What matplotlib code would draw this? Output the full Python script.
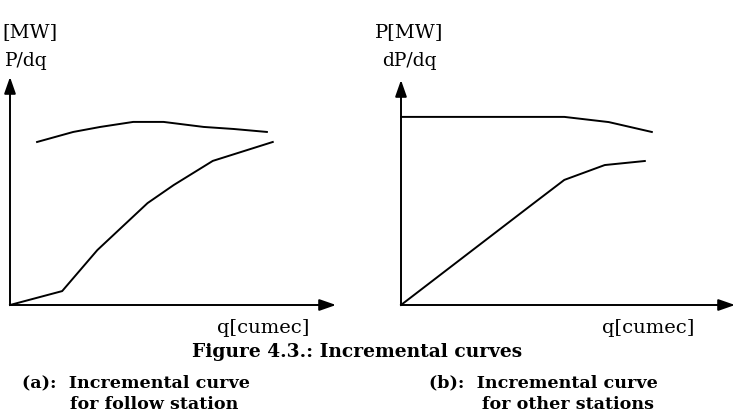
import matplotlib
matplotlib.use("Agg")
import matplotlib.pyplot as plt

# ---- data (arbitrary units, axes span 0..10) ----
follow_upper_x = [0.83, 1.94, 2.77, 3.78, 4.71, 5.94, 6.86, 7.88]
follow_upper_y = [7.15, 7.59, 7.81, 8.03, 8.03, 7.81, 7.72, 7.59]
follow_lower_x = [0.0, 1.6, 2.68, 4.22, 5.02, 6.22, 8.06]
follow_lower_y = [0.0, 0.61, 2.41, 4.47, 5.26, 6.32, 7.15]

other_upper_x = [0.0, 3.9, 4.89, 6.22, 7.51]
other_upper_y = [8.36, 8.36, 8.36, 8.13, 7.69]
other_lower_x = [0.0, 3.9, 4.89, 6.1, 7.3]
other_lower_y = [0.0, 4.44, 5.56, 6.22, 6.4]

W, H = 742, 415
fig = plt.figure(figsize=(W / 100, H / 100), dpi=100)
fig.patch.set_facecolor("white")
SERIF = ["DejaVu Serif", "Liberation Serif"]


def px_axes(x0, y0, x1, y1):
    """axes from origin pixel (x0,y0) to arrow tips (x1 right, y1 top)"""
    ax = fig.add_axes([x0 / W, (H - y0) / H, (x1 - x0) / W, (y0 - y1) / H])
    ax.set_xlim(0, 10)
    ax.set_ylim(0, 10)
    ax.axis("off")
    arrow = dict(arrowstyle="-|>,head_length=1.0,head_width=0.35", color="black",
                 lw=1.4, shrinkA=0, shrinkB=0, mutation_scale=10)
    ax.annotate("", xy=(1, 0), xytext=(0, 0), xycoords="axes fraction",
                arrowprops=arrow)
    ax.annotate("", xy=(0, 1), xytext=(0, 0), xycoords="axes fraction",
                arrowprops=arrow)
    return ax


axa = px_axes(10, 305, 336, 77)
axa.plot(follow_upper_x, follow_upper_y, color="black", lw=1.4, clip_on=False)
axa.plot(follow_lower_x, follow_lower_y, color="black", lw=1.4, clip_on=False)

axb = px_axes(401, 305, 735, 80)
axb.plot(other_upper_x, other_upper_y, color="black", lw=1.4, clip_on=False)
axb.plot(other_lower_x, other_lower_y, color="black", lw=1.4, clip_on=False)


def ftext(x, y, s, size, weight="normal"):
    fig.text(x / W, 1 - y / H, s, fontsize=size, ha="left", va="baseline",
             family=SERIF, weight=weight)


ftext(2, 37, "[MW]", 14)
ftext(5, 66, "P/dq", 13.5)
ftext(375, 37, "P[MW]", 14)
ftext(382, 66, "dP/dq", 13.5)
ftext(217, 333, "q[cumec]", 14)
ftext(602, 333, "q[cumec]", 14)

ftext(192, 357, "Figure 4.3.: Incremental curves", 13.4, weight="bold")
ftext(22, 387, "(a):  Incremental curve", 12.6, weight="bold")
ftext(70, 409, "for follow station", 12.6, weight="bold")
ftext(429, 387, "(b):  Incremental curve", 12.6, weight="bold")
ftext(482, 409, "for other stations", 12.6, weight="bold")

fig.savefig("out.png", dpi=100, facecolor="white")
